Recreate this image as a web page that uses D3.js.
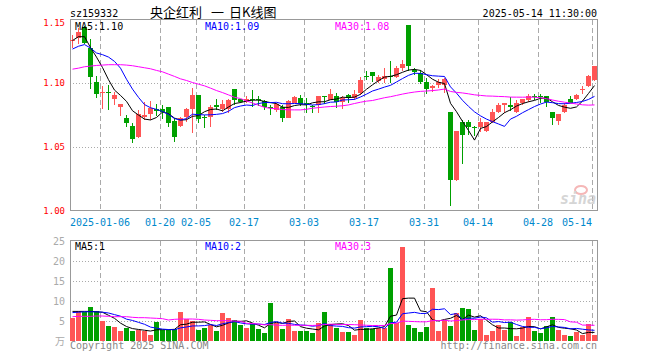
<!DOCTYPE html>
<html>
<head>
<meta charset="utf-8">
<script src="https://cdn.jsdelivr.net/npm/d3@7"></script>
<style>
  body { margin: 0; background: #fff; }
  svg { display: block; }
  text { font-family: "DejaVu Sans Mono", monospace; }
</style>
</head>
<body>
<div id="chart"></div>
<script>
// trading days shown in the chart
const dates = [
  "2024-12-27","2024-12-30","2024-12-31","2025-01-02","2025-01-03",
  "2025-01-06","2025-01-07","2025-01-08","2025-01-09","2025-01-10",
  "2025-01-13","2025-01-14","2025-01-15","2025-01-16","2025-01-17",
  "2025-01-20","2025-01-21","2025-01-22","2025-01-23","2025-01-24",
  "2025-01-27","2025-02-05","2025-02-06","2025-02-07","2025-02-10",
  "2025-02-11","2025-02-12","2025-02-13","2025-02-14","2025-02-17",
  "2025-02-18","2025-02-19","2025-02-20","2025-02-21","2025-02-24",
  "2025-02-25","2025-02-26","2025-02-27","2025-02-28","2025-03-03",
  "2025-03-04","2025-03-05","2025-03-06","2025-03-07","2025-03-10",
  "2025-03-11","2025-03-12","2025-03-13","2025-03-14","2025-03-17",
  "2025-03-18","2025-03-19","2025-03-20","2025-03-21","2025-03-24",
  "2025-03-25","2025-03-26","2025-03-27","2025-03-28","2025-03-31",
  "2025-04-01","2025-04-02","2025-04-03","2025-04-07","2025-04-08",
  "2025-04-09","2025-04-10","2025-04-11","2025-04-14","2025-04-15",
  "2025-04-16","2025-04-17","2025-04-18","2025-04-21","2025-04-22",
  "2025-04-23","2025-04-24","2025-04-25","2025-04-28","2025-04-29",
  "2025-04-30","2025-05-06","2025-05-07","2025-05-08","2025-05-09",
  "2025-05-12","2025-05-13","2025-05-14"
];

const open = [
  1.133, 1.1355, 1.144, 1.1276, 1.1011, 1.0921, 1.0932, 1.0876, 1.0816, 1.0729,
  1.0663, 1.0574, 1.0737, 1.0755, 1.0797, 1.0797, 1.0811, 1.0703, 1.0666, 1.0732,
  1.0795, 1.0908, 1.0737, 1.0732, 1.0829, 1.0795, 1.0795, 1.0955, 1.0874, 1.0855,
  1.0876, 1.0876, 1.0861, 1.0811, 1.0789, 1.0811, 1.0729, 1.0847, 1.0884, 1.0842,
  1.0821, 1.0829, 1.09, 1.0868, 1.09, 1.0855, 1.0908, 1.0882, 1.0926, 1.1058,
  1.1087, 1.1018, 1.1032, 1.1055, 1.1047, 1.1118, 1.1453, 1.11, 1.1079, 1.1013,
  1.0961, 1.0982, 1.0987, 1.0776, 1.0237, 1.0695, 1.0695, 1.0658, 1.0653, 1.0626,
  1.0697, 1.0776, 1.0829, 1.0829, 1.0776, 1.0842, 1.0868, 1.0902, 1.0897, 1.09,
  1.0776, 1.0705, 1.0776, 1.0874, 1.0874, 1.0952, 1.0974, 1.1021
];
const high = [
  1.138, 1.1434, 1.145, 1.135, 1.1053, 1.0974, 1.0987, 1.0934, 1.0838, 1.075,
  1.0684, 1.079, 1.0855, 1.0861, 1.084, 1.0826, 1.0816, 1.0724, 1.0737, 1.0803,
  1.0961, 1.0908, 1.075, 1.0829, 1.0874, 1.0868, 1.0874, 1.0955, 1.0874, 1.09,
  1.0947, 1.09, 1.0868, 1.0829, 1.0847, 1.0829, 1.0868, 1.09, 1.0908, 1.0882,
  1.0829, 1.09, 1.09, 1.0953, 1.0926, 1.09, 1.0916, 1.0947, 1.1047, 1.1092,
  1.1087, 1.1066, 1.1118, 1.1171, 1.1132, 1.1184, 1.1453, 1.1118, 1.11, 1.1039,
  1.0987, 1.1032, 1.1039, 1.0776, 1.0624, 1.0711, 1.0711, 1.0663, 1.0724, 1.0697,
  1.0795, 1.0842, 1.0842, 1.0895, 1.0868, 1.0874, 1.0916, 1.0916, 1.0916, 1.09,
  1.0776, 1.0758, 1.0842, 1.09, 1.0916, 1.0974, 1.1066, 1.1137
];
const low = [
  1.128, 1.1311, 1.131, 1.0953, 1.0882, 1.08, 1.0789, 1.0829, 1.0742, 1.0658,
  1.0532, 1.0568, 1.0711, 1.0711, 1.0745, 1.0718, 1.0658, 1.0539, 1.0658, 1.0697,
  1.0605, 1.0684, 1.0645, 1.0658, 1.0789, 1.0776, 1.0768, 1.0829, 1.0842, 1.0842,
  1.0811, 1.0821, 1.0789, 1.075, 1.0776, 1.0697, 1.0724, 1.0842, 1.0821, 1.0763,
  1.0763, 1.0768, 1.0837, 1.0868, 1.0803, 1.0795, 1.0842, 1.0868, 1.0908, 1.1021,
  1.1013, 1.1, 1.1, 1.1, 1.1039, 1.1092, 1.1092, 1.1066, 1.0995, 1.0916,
  1.0934, 1.0961, 1.0926, 1.0032, 1.0232, 1.0363, 1.0592, 1.0584, 1.0618, 1.0618,
  1.0684, 1.0768, 1.0768, 1.0784, 1.0763, 1.0829, 1.0855, 1.0868, 1.0842, 1.0811,
  1.0671, 1.0671, 1.0768, 1.0842, 1.0868, 1.0916, 1.0968, 1.1018
];
const close = [
  1.134, 1.1403, 1.1316, 1.1047, 1.0916, 1.0932, 1.0925, 1.0908, 1.0837, 1.0684,
  1.0563, 1.0755, 1.075, 1.0803, 1.0782, 1.0776, 1.0689, 1.0579, 1.0724, 1.0797,
  1.0908, 1.0718, 1.0732, 1.0811, 1.0816, 1.0837, 1.0868, 1.0868, 1.085, 1.0876,
  1.0871, 1.087, 1.0816, 1.0803, 1.0837, 1.0729, 1.0863, 1.0889, 1.0837, 1.0829,
  1.0811, 1.09, 1.0895, 1.0916, 1.0855, 1.0884, 1.0882, 1.0916, 1.1026, 1.1053,
  1.1058, 1.1045, 1.1058, 1.1053, 1.1118, 1.1153, 1.1132, 1.1084, 1.1013, 1.0953,
  1.0974, 1.1013, 1.1032, 1.0237, 1.0624, 1.0592, 1.0658, 1.0653, 1.0697, 1.0697,
  1.0776, 1.0829, 1.0842, 1.0811, 1.0842, 1.0874, 1.09, 1.0897, 1.0892, 1.0855,
  1.0724, 1.0758, 1.0829, 1.0847, 1.0908, 1.0955, 1.1058, 1.1137
];
// volume, unit 万
const volume = [
  5.7, 7.5, 7.3, 8.5, 7.5, 5.1, 3.75, 3.5, 2.5, 3.25,
  2.5, 2.7, 2.5, 1.5, 4.8, 2.7, 2.7, 2.9, 7.25, 5.5,
  5.1, 2.75, 3.25, 4.1, 2.5, 7.0, 5.75, 5.25, 4.0, 3.25,
  4.25, 3.0, 2.0, 9.5, 4.5, 3.0, 5.5, 2.5, 2.5, 2.5,
  2.0, 4.5, 7.25, 4.25, 3.25, 2.3, 2.25, 1.5, 5.25, 3.25,
  3.0, 3.3, 3.25, 18.25, 4.6, 23.5, 4.0, 3.25, 2.3, 3.6,
  13.3, 2.5, 5.25, 3.75, 7.1, 8.25, 8.0, 2.75, 5.5, 1.5,
  2.5, 4.0, 2.75, 4.75, 1.25, 3.4, 6.0, 2.5, 2.0, 3.75,
  6.0, 2.75, 1.5, 1.25, 2.25, 1.5, 4.25, 1.5
];

// moving averages for the first days rely on history before the window,
// so those leading values are read from the chart
const priceMaLead = {
  5: [1.1335, 1.1365, 1.1365, 1.128],
  10: [1.1268, 1.129, 1.1303, 1.1276, 1.1237, 1.1224, 1.1205, 1.1171, 1.1118],
  30: [1.111, 1.1118, 1.1129, 1.1134, 1.1139, 1.1142, 1.1145, 1.1145, 1.1145, 1.1142,
       1.1137, 1.1129, 1.1121, 1.1113, 1.11, 1.1089, 1.1071, 1.1053, 1.1034, 1.1021,
       1.1005, 1.0992, 1.0979, 1.0961, 1.0942, 1.0926, 1.0908, 1.0889, 1.0879]
};
const volMaLead = {
  5: [7.4, 7.4, 7.4, 7.4],
  10: [7.1, 7.2, 7.3, 7.3, 7.3, 7.2, 7.0, 6.6, 6.2],
  30: [6.08, 6.17, 6.17, 6.17, 6.25, 6.25, 6.17, 6.08, 6.08, 6.08,
       5.92, 5.83, 5.83, 5.75, 5.67, 5.58, 5.25, 5.42, 5.5, 5.5,
       5.5, 5.42, 5.25, 5.17, 5.08, 5.08, 5.08, 5.0, 4.92]
};

const tickDates = ["2025-01-06","2025-01-20","2025-02-05","2025-02-17","2025-03-03",
                   "2025-03-17","2025-03-31","2025-04-14","2025-04-28","2025-05-14"];
const priceTicks = [1.00, 1.05, 1.10, 1.15];
const volTicks = [5, 10, 15, 20, 25];

const maColors = { 5: "#000000", 10: "#0000ff", 30: "#ff00ff" };
const maLabels = { price: ["MA5:1.10", "MA10:1.09", "MA30:1.08"], vol: ["MA5:1", "MA10:2", "MA30:3"] };

const UP = "#ff5555", DOWN = "#00a000", GRID = "#aaaaaa", FRAME = "#999999";

const W = 660, H = 360;
const L = 70, R = 598;
const svg = d3.select("#chart").append("svg").attr("width", W).attr("height", H);

const x = d3.scaleBand().domain(d3.range(dates.length)).range([L, R]).padding(0);
const cx = i => x(i) + 2.5;
const y = d3.scaleLinear().domain([1.0, 1.15]).range([210.5, 19.5]);
const yv = d3.scaleLinear().domain([0, 25]).range([341, 241]);

function rollMean(vals, n, lead) {
  return vals.map((v, i) => i < n - 1 ? lead[i] : d3.mean(vals.slice(i - n + 1, i + 1)));
}

const isUp = i => close[i] >= open[i];
const tickIdx = tickDates.map(d => dates.indexOf(d));

// ---------- header
svg.append("text").attr("x", 70).attr("y", 16.5).attr("font-size", 10).text("sz159332");
const title = svg.append("g").attr("font-size", 13);
title.append("text").attr("x", 150).attr("y", 17).style("font-family", "'Noto Sans CJK SC'").text("央企红利");
title.append("text").attr("x", 211).attr("y", 17).style("font-family", "'Noto Sans CJK SC'").text("一");
title.append("text").attr("x", 229).attr("y", 17).style("font-family", "'Noto Sans CJK SC'").text("日K线图");
svg.append("text").attr("x", 597).attr("y", 16.5).attr("font-size", 10).attr("text-anchor", "end")
  .text("2025-05-14 11:30:00");

// ---------- panel frames and grids
function panel(top, bottom, hLines, yScale) {
  const g = svg.append("g").attr("shape-rendering", "crispEdges");
  g.selectAll("line.v").data(tickIdx).join("line")
    .attr("x1", i => x(i) + 0.5).attr("x2", i => x(i) + 0.5)
    .attr("y1", top).attr("y2", bottom)
    .attr("stroke", GRID).attr("stroke-dasharray", "5,3");
  g.selectAll("line.h").data(hLines).join("line")
    .attr("x1", L).attr("x2", R - 1)
    .attr("y1", d => Math.round(yScale(d)) + 0.5).attr("y2", d => Math.round(yScale(d)) + 0.5)
    .attr("stroke", GRID).attr("stroke-dasharray", "1,2");
  return g;
}

const pg = panel(20, 210, [1.05, 1.10], y);
pg.append("path").attr("fill", "none").attr("stroke", FRAME)
  .attr("d", `M${L + 0.5},210.5V19.5H${R - 0.5}V210.5H${L + 0.5}`);

const vg = panel(241, 341, [5, 10, 15, 20], yv);
vg.append("path").attr("fill", "none").attr("stroke", FRAME)
  .attr("d", `M${L + 0.5},341V240.5H${R - 0.5}V341`);

// ---------- axis labels
svg.append("g").attr("font-size", 9).attr("fill", "#ff0000").attr("text-anchor", "end")
  .selectAll("text").data(priceTicks).join("text")
  .attr("x", 65).attr("y", d => Math.min(y(d) + 3, 213.5) + (d === 1.15 ? 3 : 0))
  .text(d => d.toFixed(2));

svg.append("g").attr("font-size", 10).attr("fill", "#0088cc").attr("text-anchor", "middle")
  .selectAll("text").data(tickIdx).join("text")
  .attr("x", (i, k) => {
    const w = (k === 0 ? 10 : 5) * 6;
    return Math.min(x(i), R - 6 - w / 2);
  })
  .attr("y", 225.5)
  .text((i, k) => k === 0 ? dates[i] : dates[i].slice(5));

svg.append("g").attr("font-size", 10).attr("fill", "#aaaaaa").attr("text-anchor", "end")
  .selectAll("text").data(volTicks).join("text")
  .attr("x", 65).attr("y", d => yv(d) + 4)
  .text(d => d);
svg.append("text").attr("x", 65).attr("y", 345).attr("text-anchor", "end")
  .attr("font-size", 10).attr("fill", "#aaaaaa").style("font-family", "'Noto Sans CJK SC'").text("万");

// ---------- candles
const cg = svg.append("g").attr("shape-rendering", "crispEdges");
cg.selectAll("rect.wick").data(dates.map((d, i) => i)).join("rect")
  .attr("x", i => x(i) + 2).attr("width", 1)
  .attr("y", i => Math.round(y(high[i])))
  .attr("height", i => Math.max(1, Math.round(y(low[i])) - Math.round(y(high[i]))))
  .attr("fill", i => isUp(i) ? UP : DOWN);
cg.selectAll("rect.body").data(dates.map((d, i) => i)).join("rect")
  .attr("x", i => x(i)).attr("width", x.bandwidth() - 1)
  .attr("y", i => Math.round(y(Math.max(open[i], close[i]))))
  .attr("height", i => Math.max(1, Math.round(y(Math.min(open[i], close[i]))) - Math.round(y(Math.max(open[i], close[i])))))
  .attr("fill", i => isUp(i) ? UP : DOWN);

// ---------- volume bars
svg.append("g").attr("shape-rendering", "crispEdges")
  .selectAll("rect").data(volume).join("rect")
  .attr("x", (d, i) => x(i)).attr("width", x.bandwidth() - 1)
  .attr("y", d => Math.round(yv(d))).attr("height", d => 341 - Math.round(yv(d)))
  .attr("fill", (d, i) => isUp(i) ? UP : DOWN);

// ---------- moving average lines
const line = yScale => d3.line().x((d, i) => cx(i)).y(d => yScale(d));
[5, 10, 30].forEach(n => {
  svg.append("path").attr("fill", "none").attr("stroke", maColors[n]).attr("stroke-width", 1)
    .attr("d", line(y)(rollMean(close, n, priceMaLead[n])));
  svg.append("path").attr("fill", "none").attr("stroke", maColors[n]).attr("stroke-width", 1)
    .attr("d", line(yv)(rollMean(volume, n, volMaLead[n])));
});

// ---------- legends
[75, 205, 335].forEach((lx, k) => {
  const col = maColors[[5, 10, 30][k]];
  svg.append("text").attr("x", lx).attr("y", 29.5).attr("font-size", 10).attr("fill", col).text(maLabels.price[k]);
  svg.append("text").attr("x", lx).attr("y", 250).attr("font-size", 10).attr("fill", col).text(maLabels.vol[k]);
});

// ---------- footer
svg.append("text").attr("x", 70).attr("y", 349).attr("font-size", 10).attr("fill", "#888888")
  .text("Copyright 2025 SINA.COM");
svg.append("text").attr("x", 597).attr("y", 349).attr("font-size", 10).attr("fill", "#888888")
  .attr("text-anchor", "end").text("http://finance.sina.com.cn");

// ---------- sina watermark
const wm = svg.append("g").attr("opacity", 0.75);
wm.append("ellipse").attr("cx", 581).attr("cy", 190).attr("rx", 6).attr("ry", 4)
  .attr("fill", "none").attr("stroke", "#f2a0a0").attr("stroke-width", 2);
wm.append("text").attr("x", 596).attr("y", 204).attr("text-anchor", "end")
  .attr("font-family", "'DejaVu Sans', sans-serif").attr("font-style", "italic").attr("font-weight", "bold")
  .attr("font-size", 15).attr("fill", "#c8c8c8").text("sina");
</script>
</body>
</html>
